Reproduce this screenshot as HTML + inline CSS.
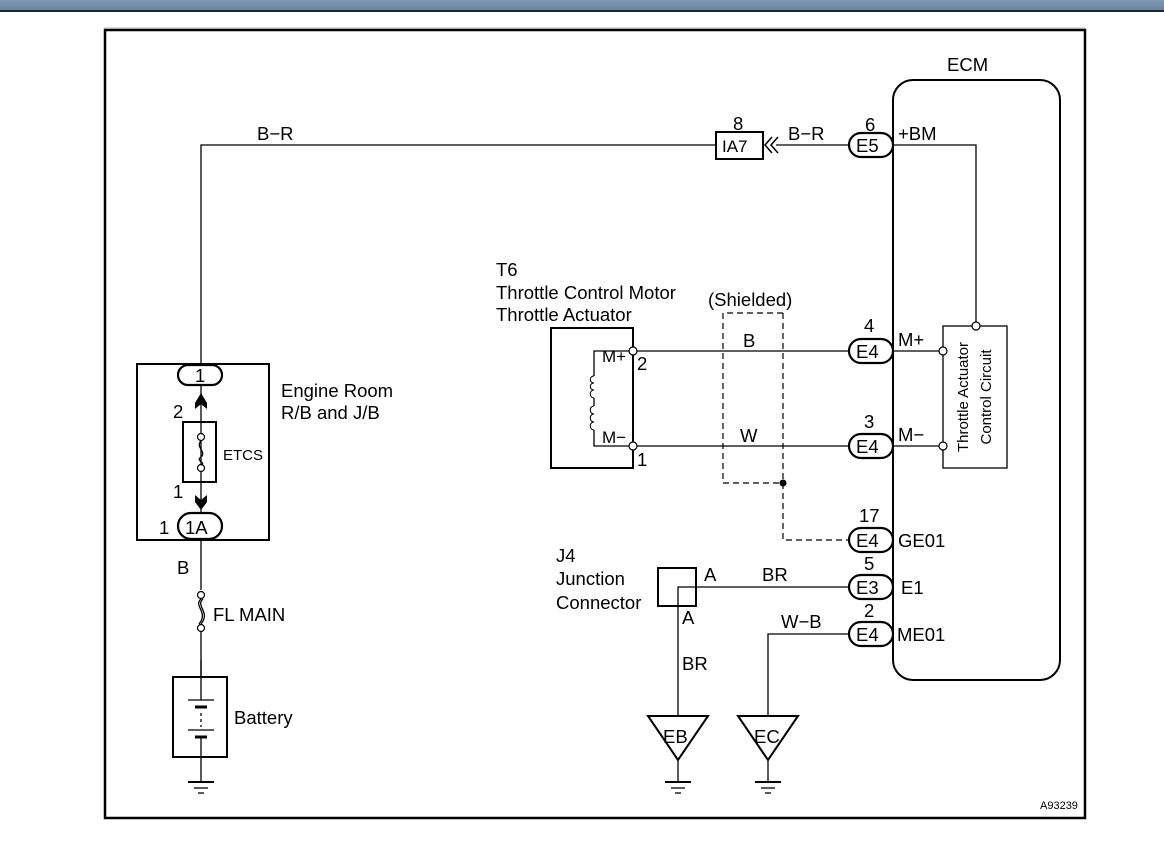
<!DOCTYPE html>
<html><head><meta charset="utf-8"><style>
html,body{margin:0;padding:0;background:#fff;}
svg{display:block;}
text{font-family:"Liberation Sans",sans-serif;fill:#000;}
</style></head><body>
<svg width="1164" height="846" viewBox="0 0 1164 846" xmlns="http://www.w3.org/2000/svg">
<defs><linearGradient id="hg" x1="0" y1="0" x2="0" y2="1"><stop offset="0" stop-color="#7f97b2"/><stop offset="1" stop-color="#6a819c"/></linearGradient></defs>
<rect x="0" y="0" width="1164" height="11" fill="url(#hg)"/>
<rect x="0" y="10" width="1164" height="2" fill="#1a2a3a"/>
<rect x="104" y="27" width="981" height="2" fill="#ddd"/>
<rect x="105" y="30" width="980" height="788" fill="none" stroke="#000" stroke-width="2.5"/>

<g stroke="#000" fill="none" stroke-width="1.3">
<polyline points="201,365 201,145 716,145"/>
<line x1="776" y1="145" x2="850" y2="145"/>
<line x1="201" y1="380" x2="201" y2="513"/>
<line x1="201" y1="540" x2="201" y2="590"/>
<line x1="201" y1="632" x2="201" y2="677"/>
<line x1="201" y1="757" x2="201" y2="782"/>
<polyline points="633,351 594,351 594,376"/>
<polyline points="594,398 594,406"/>
<polyline points="594,430 594,446 633,446"/>
<line x1="637" y1="351" x2="850" y2="351"/>
<line x1="637" y1="446" x2="850" y2="446"/>
<polyline points="678,716 678,587 850,587" />
<polyline points="768,716 768,634 850,634"/>
<line x1="678" y1="760" x2="678" y2="782"/>
<line x1="768" y1="760" x2="768" y2="782"/>
</g>
<g stroke="#000" fill="none" stroke-width="1.2" stroke-dasharray="6,4">
<polyline points="783,313 723,313 723,483 783,483"/>
<polyline points="783,313 783,540 848,540"/>
</g>
<circle cx="783" cy="483" r="3.5" fill="#000"/>

<g stroke="#000" fill="none" stroke-width="2">
<rect x="137" y="364" width="132" height="176"/>
<rect x="183" y="422" width="33" height="60"/>
<rect x="173" y="677" width="54" height="80"/>
<rect x="551" y="328" width="82" height="140"/>
<rect x="893" y="80" width="167" height="600" rx="20" fill="#fff"/>
<rect x="658" y="568" width="38" height="38"/>
<rect x="716" y="132" width="47" height="27"/>
</g>
<rect x="943" y="326" width="64" height="142" fill="#fff" stroke="#000" stroke-width="1.3"/>
<g stroke="#000" fill="none" stroke-width="1.3">
<polyline points="893,145 976,145 976,322"/>
<line x1="893" y1="351" x2="939" y2="351"/>
<line x1="893" y1="446" x2="939" y2="446"/>
</g>
<g stroke="#000" fill="#fff" stroke-width="1.2">
<circle cx="976" cy="326" r="4"/>
<circle cx="943" cy="351" r="4"/>
<circle cx="943" cy="446" r="4"/>
<circle cx="633" cy="351" r="4"/>
<circle cx="633" cy="446" r="4"/>
<circle cx="201" cy="437" r="3.5"/>
<circle cx="201" cy="468" r="3.5"/>
<circle cx="201" cy="595" r="3.5"/>
<circle cx="201" cy="628" r="3.5"/>
</g>
<path d="M201,441 C195,447 207,452 201,457 C195,461 207,463 201,465" stroke="#000" fill="none" stroke-width="1.3"/>
<path d="M201,599 C193,606 209,612 199,624 M203,599 C195,606 211,612 201,624" stroke="#000" fill="none" stroke-width="1.3"/>
<path d="M195,403 L201,393 L207,403 L207,409 L201,404 L195,409 Z" fill="#000"/>
<path d="M195,495 L201,500 L207,495 L207,502 L201,510 L195,502 Z" fill="#000"/>
<path d="M772,137 L765,145 L772,153 M778,137 L771,145 L778,153" stroke="#000" fill="none" stroke-width="1.5"/>
<g stroke="#000" fill="none" stroke-width="1">
<path d="M594,376 c-5,0 -5,7 0,7 c-5,0 -5,7 0,7 c-5,0 -5,8 0,8"/>
<path d="M594,406 c-5,0 -5,8 0,8 c-5,0 -5,8 0,8 c-5,0 -5,8 0,8"/>
</g>
<g stroke="#000" fill="#fff" stroke-width="2.2">
<rect x="178" y="365" width="44" height="20" rx="10"/>
<rect x="178" y="513" width="44" height="26" rx="13"/>
<rect x="849" y="133" width="44" height="24" rx="12"/>
<rect x="849" y="339" width="44" height="24" rx="12"/>
<rect x="849" y="434" width="44" height="24" rx="12"/>
<rect x="849" y="528" width="44" height="24" rx="12"/>
<rect x="849" y="575" width="44" height="24" rx="12"/>
<rect x="849" y="622" width="44" height="24" rx="12"/>
</g>
<g stroke="#000" stroke-width="1.3">
<line x1="188" y1="700" x2="214" y2="700"/>
<line x1="195" y1="707" x2="207" y2="707" stroke-width="3"/>
<line x1="201" y1="713" x2="201" y2="727" stroke-dasharray="3,3"/>
<line x1="188" y1="730" x2="214" y2="730"/>
<line x1="195" y1="737" x2="207" y2="737" stroke-width="3"/>
<line x1="201" y1="660" x2="201" y2="700"/>
<line x1="201" y1="737" x2="201" y2="757"/>
</g>
<g stroke="#000" stroke-width="1.3">
<line x1="188" y1="782" x2="214" y2="782" stroke-width="2"/><line x1="194" y1="788" x2="208" y2="788"/><line x1="198" y1="793" x2="204" y2="793"/>
<line x1="665" y1="782" x2="691" y2="782" stroke-width="2"/><line x1="671" y1="788" x2="685" y2="788"/><line x1="675" y1="793" x2="681" y2="793"/>
<line x1="755" y1="782" x2="781" y2="782" stroke-width="2"/><line x1="761" y1="788" x2="775" y2="788"/><line x1="765" y1="793" x2="771" y2="793"/>
</g>
<g stroke="#000" fill="#fff" stroke-width="2">
<polygon points="648,716 708,716 678,760"/>
<polygon points="738,716 798,716 768,760"/>
</g>

<g font-size="18.5">
<text x="947" y="71">ECM</text>
<text x="257" y="140">B−R</text>
<text x="733" y="130">8</text>
<text x="722" y="152" font-size="17">IA7</text>
<text x="788" y="140">B−R</text>
<text x="865" y="131">6</text>
<text x="856" y="152">E5</text>
<text x="898" y="140">+BM</text>
<text x="496" y="276">T6</text>
<text x="496" y="299">Throttle Control Motor</text>
<text x="496" y="321">Throttle Actuator</text>
<text x="708" y="306">(Shielded)</text>
<text x="743" y="347">B</text>
<text x="740" y="442">W</text>
<text x="602" y="362" font-size="17">M+</text>
<text x="602" y="443" font-size="17">M−</text>
<text x="637" y="370">2</text>
<text x="637" y="466">1</text>
<text x="864" y="332">4</text>
<text x="856" y="358">E4</text>
<text x="898" y="346">M+</text>
<text x="864" y="428">3</text>
<text x="856" y="453">E4</text>
<text x="898" y="441">M−</text>
<text x="859" y="522">17</text>
<text x="856" y="547">E4</text>
<text x="898" y="547">GE01</text>
<text x="864" y="570">5</text>
<text x="856" y="594">E3</text>
<text x="901" y="594">E1</text>
<text x="864" y="617">2</text>
<text x="856" y="641">E4</text>
<text x="897" y="641">ME01</text>
<text x="556" y="562">J4</text>
<text x="556" y="585">Junction</text>
<text x="556" y="609">Connector</text>
<text x="704" y="581">A</text>
<text x="762" y="581">BR</text>
<text x="682" y="624">A</text>
<text x="682" y="670">BR</text>
<text x="781" y="628">W−B</text>
<text x="663" y="743">EB</text>
<text x="754" y="743">EC</text>
<text x="195" y="382">1</text>
<text x="173" y="418">2</text>
<text x="173" y="498">1</text>
<text x="159" y="534">1</text>
<text x="185" y="534">1A</text>
<text x="281" y="397">Engine Room</text>
<text x="281" y="419">R/B and J/B</text>
<text x="223" y="460" font-size="15">ETCS</text>
<text x="177" y="574">B</text>
<text x="213" y="621">FL MAIN</text>
<text x="234" y="724">Battery</text>
</g>
<text x="968" y="397" font-size="15" transform="rotate(-90 968 397)" text-anchor="middle">Throttle Actuator</text>
<text x="991" y="397" font-size="15" transform="rotate(-90 991 397)" text-anchor="middle">Control Circuit</text>
<text x="1040" y="809" font-size="11">A93239</text>
</svg>
</body></html>
